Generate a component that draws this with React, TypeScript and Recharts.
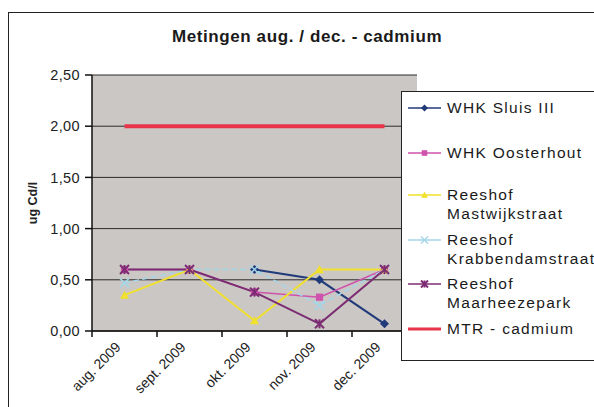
import React from 'react';
import { LineChart, Line, XAxis, YAxis, CartesianGrid } from 'recharts';

const months = ['aug. 2009', 'sept. 2009', 'okt. 2009', 'nov. 2009', 'dec. 2009'];
const yTicks = [0, 0.5, 1, 1.5, 2, 2.5];

const sluisIII = [null, null, 0.6, 0.5, 0.07];
const oosterhout = [0.6, 0.6, 0.38, 0.33, 0.6];
const mastwijkstraat = [0.35, 0.6, 0.1, 0.6, 0.6];
const krabbendamstraat = [0.47, 0.6, 0.6, 0.25, 0.6];
const maarheezepark = [0.6, 0.6, 0.38, 0.07, 0.6];
const mtrCadmium = [2, 2, 2, 2, 2];

const data = months.map((month, i) => ({
  month,
  sluis: sluisIII[i],
  oosterhout: oosterhout[i],
  mastwijk: mastwijkstraat[i],
  krabbendam: krabbendamstraat[i],
  maarheeze: maarheezepark[i],
  mtr: mtrCadmium[i],
}));

const FONT = '"Liberation Sans", Arial, sans-serif';
const PLOT_LEFT = 92;
const PLOT_RIGHT = 417;
const HALF_BAND = (PLOT_RIGHT - PLOT_LEFT) / months.length / 2;

type Marker = 'diamond' | 'square' | 'triangle' | 'cross' | 'star' | 'none';

const series = [
  { key: 'sluis', name: ['WHK Sluis III'], color: '#203a7a', width: 2, marker: 'diamond' as Marker, dash: undefined },
  { key: 'oosterhout', name: ['WHK Oosterhout'], color: '#cf52ac', width: 1.5, marker: 'square' as Marker, dash: undefined },
  { key: 'mastwijk', name: ['Reeshof', 'Mastwijkstraat'], color: '#f1e02c', width: 2, marker: 'triangle' as Marker, dash: undefined },
  { key: 'krabbendam', name: ['Reeshof', 'Krabbendamstraat'], color: '#a4d6ea', width: 1.5, marker: 'cross' as Marker, dash: '6 3' },
  { key: 'maarheeze', name: ['Reeshof', 'Maarheezepark'], color: '#7c2c72', width: 2, marker: 'star' as Marker, dash: undefined },
  { key: 'mtr', name: ['MTR - cadmium'], color: '#e8354a', width: 4, marker: 'none' as Marker, dash: undefined },
];

// vertical offsets of the legend entries inside the box
const legendTops = [6, 51, 93, 138, 182, 227];

function markerShape(marker: Marker, color: string, cx: number, cy: number, s: number) {
  switch (marker) {
    case 'diamond':
      return <polygon points={`${cx},${cy - s} ${cx + s},${cy} ${cx},${cy + s} ${cx - s},${cy}`} fill={color} />;
    case 'square':
      return <rect x={cx - s * 0.8} y={cy - s * 0.8} width={s * 1.6} height={s * 1.6} fill={color} />;
    case 'triangle':
      return <polygon points={`${cx},${cy - s} ${cx + s},${cy + s * 0.8} ${cx - s},${cy + s * 0.8}`} fill={color} />;
    case 'cross':
      return (
        <g stroke={color} strokeWidth={1.5}>
          <line x1={cx - s} y1={cy - s} x2={cx + s} y2={cy + s} />
          <line x1={cx - s} y1={cy + s} x2={cx + s} y2={cy - s} />
        </g>
      );
    case 'star':
      return (
        <g stroke={color} strokeWidth={2}>
          <line x1={cx - s} y1={cy - s} x2={cx + s} y2={cy + s} />
          <line x1={cx - s} y1={cy + s} x2={cx + s} y2={cy - s} />
          <line x1={cx} y1={cy - s} x2={cx} y2={cy + s} />
        </g>
      );
    default:
      return null;
  }
}

const makeDot = (marker: Marker, color: string) => (props: any) => {
  const { cx, cy, index } = props;
  if (cx == null || cy == null || props.value == null) return <g key={`d-${index}`} />;
  return <g key={`d-${index}`}>{markerShape(marker, color, cx, cy, 4.5)}</g>;
};

const MonthTick = (props: any) => {
  const { x, y, payload, index } = props;
  const tx = x - 3;
  const ty = y + 17;
  return (
    <g>
      <line x1={x - HALF_BAND} y1={y} x2={x - HALF_BAND} y2={y + 6} stroke="#111" strokeWidth={1.5} />
      {index === months.length - 1 && (
        <line x1={x + HALF_BAND} y1={y} x2={x + HALF_BAND} y2={y + 6} stroke="#111" strokeWidth={1.5} />
      )}
      <text
        x={tx}
        y={ty}
        textAnchor="end"
        transform={`rotate(-45 ${tx} ${ty})`}
        fontSize={14}
        fontFamily={FONT}
        fill="#222"
      >
        {payload.value}
      </text>
    </g>
  );
};

export default function App() {
  return (
    <div style={{ position: 'absolute', left: 0, top: 0, width: 594, height: 407, overflow: 'hidden', background: '#fff', fontFamily: FONT }}>
      <div style={{ position: 'absolute', left: 8, top: 12, width: 620, height: 420, border: '1.5px solid #222' }} />
      <div style={{ position: 'absolute', left: 0, top: 27, width: 614, textAlign: 'center', fontSize: 17, letterSpacing: 0.6, fontWeight: 'bold', color: '#1a1a1a' }}>
        Metingen aug. / dec. - cadmium
      </div>
      <div
        style={{
          position: 'absolute',
          left: 33,
          top: 203,
          transform: 'translate(-50%, -50%) rotate(-90deg)',
          fontSize: 12.5,
          fontWeight: 'bold',
          color: '#222',
          whiteSpace: 'nowrap',
        }}
      >
        ug Cd/l
      </div>
      <div style={{ position: 'absolute', left: 0, top: 0 }}>
        <LineChart width={594} height={407} data={data} margin={{ top: 75, right: 177, left: 32, bottom: 16 }}>
          <CartesianGrid vertical={false} fill="#cbc7c4" stroke="#2a2a2a" strokeWidth={1} />
          <XAxis
            dataKey="month"
            scale="band"
            height={60}
            tickLine={false}
            tickSize={0}
            tickMargin={0}
            axisLine={{ stroke: '#111', strokeWidth: 1.5 }}
            tick={<MonthTick />}
            interval={0}
          />
          <YAxis
            width={60}
            domain={[0, 2.5]}
            ticks={yTicks}
            tickSize={7}
            tickMargin={5}
            tickFormatter={(v: number) => v.toFixed(2).replace('.', ',')}
            axisLine={{ stroke: '#111', strokeWidth: 1.5 }}
            tickLine={{ stroke: '#111', strokeWidth: 1.5 }}
            tick={{ fontSize: 14.5, fill: '#222', fontFamily: FONT, letterSpacing: 0.4 }}
          />
          {series.map((s) => (
            <Line
              key={s.key}
              dataKey={s.key}
              name={s.name.join(' ')}
              type="linear"
              stroke={s.color}
              strokeWidth={s.width}
              strokeDasharray={s.dash}
              dot={s.marker === 'none' ? false : makeDot(s.marker, s.color)}
              activeDot={false}
              connectNulls={false}
              isAnimationActive={false}
            />
          ))}
        </LineChart>
      </div>
      <div style={{ position: 'absolute', left: 401, top: 91, width: 220, height: 268, background: '#fff', border: '1.5px solid #222' }}>
        {series.map((s, i) => (
          <div key={s.key} style={{ position: 'absolute', left: 0, top: legendTops[i], display: 'flex', alignItems: 'flex-start' }}>
            <svg width={45} height={19} style={{ flex: 'none' }}>
              <line x1={6} y1={10} x2={39} y2={10} stroke={s.color} strokeWidth={s.marker === 'none' ? 3 : 1.5} />
              {markerShape(s.marker, s.color, 22.5, 10, 3.5)}
            </svg>
            <div style={{ fontSize: 15.5, lineHeight: '19px', letterSpacing: 1.3, color: '#1a1a1a', whiteSpace: 'nowrap' }}>
              {s.name.map((line) => (
                <div key={line}>{line}</div>
              ))}
            </div>
          </div>
        ))}
      </div>
    </div>
  );
}
